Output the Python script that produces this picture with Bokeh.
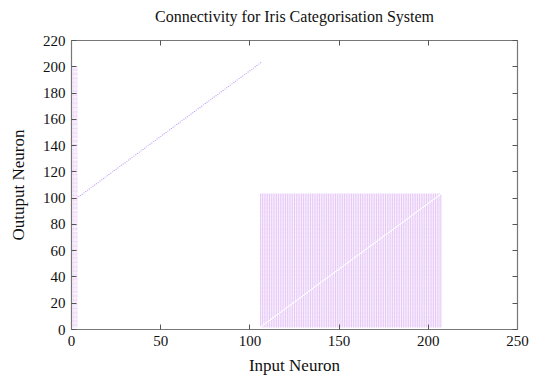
from bokeh.plotting import figure
from bokeh.models import LinearAxis, FixedTicker, Range1d, CustomLabelingPolicy
from bokeh.embed import file_html
from bokeh.resources import INLINE

# --- data (connectivity: input neuron index -> output neuron index) ---
title_text = "Connectivity for Iris Categorisation System"
x_label = "Input Neuron"
y_label = "Outuput Neuron"
x_ticks = [0, 50, 100, 150, 200, 250]
y_ticks = [0, 20, 40, 60, 80, 100, 120, 140, 160, 180, 200, 220]

# sensory inputs (4 iris features) projecting to all neurons
input_sources = [0, 1, 2, 3]
input_target_first = 2
input_target_last = 200

# one-to-one projection
o2o_source_first = 3
o2o_target_first = 100
o2o_count = 104

# all-to-all lateral block, no self connections
block_source_first = 106
block_target_first = 2
block_count = 102

# --- build connection lists ---
col_x, col_y = [], []
for s in input_sources:
    for t in range(input_target_first, input_target_last + 1):
        col_x.append(s)
        col_y.append(t)

diag_x = [o2o_source_first + k for k in range(o2o_count)]
diag_y = [o2o_target_first + k for k in range(o2o_count)]

blk_x, blk_y = [], []
for i in range(block_count):
    for j in range(block_count):
        if i != j:
            blk_x.append(block_source_first + i)
            blk_y.append(block_target_first + j)

FONT = "Liberation Serif"

p = figure(width=538, height=377, output_backend="svg", toolbar_location=None,
           x_range=Range1d(0, 250), y_range=Range1d(0, 220),
           min_border_left=71, min_border_right=16, min_border_top=40, min_border_bottom=48)
p.title.text = title_text
p.title.align = "center"
p.title.text_font = FONT
p.title.text_font_size = "16px"
p.title.text_font_style = "normal"
p.title.text_color = "#111111"
p.title.offset = 0
p.title.standoff = 10
p.outline_line_color = None
p.xgrid.visible = False
p.ygrid.visible = False

p.rect(blk_x, blk_y, width=0.6, height=1.0, fill_color="#d49cf2", line_color=None, fill_alpha=0.6)
p.rect(col_x, col_y, width=0.6, height=0.6, fill_color="#d080f0", line_color=None, fill_alpha=0.5)
p.rect(diag_x, diag_y, width=0.7, height=0.7, fill_color="#a878f0", line_color=None, fill_alpha=0.7)

no_labels = CustomLabelingPolicy(code="""
for (const i of Array.from(indices)) { indices.unset(i) }
return indices
""")

def style(ax, labels=True):
    ax.axis_line_color = "#777777"
    ax.axis_line_width = 1.2
    ax.major_tick_in = 5
    ax.major_tick_out = 0
    ax.major_tick_line_color = "#555555"
    ax.minor_tick_line_color = None
    if labels:
        ax.major_label_text_font = FONT
        ax.major_label_text_font_size = "15px"
        ax.major_label_text_color = "#111111"
        ax.axis_label_text_font = FONT
        ax.axis_label_text_font_size = "17px"
        ax.axis_label_text_font_style = "normal"
        ax.axis_label_text_color = "#111111"
    else:
        ax.major_label_policy = no_labels
        ax.major_label_standoff = 0

p.xaxis.ticker = FixedTicker(ticks=x_ticks)
p.yaxis.ticker = FixedTicker(ticks=y_ticks)
p.xaxis.axis_label = x_label
p.yaxis.axis_label = y_label
style(p.xaxis[0])
style(p.yaxis[0])
p.xaxis.major_label_standoff = 6
p.yaxis.major_label_standoff = 6
p.xaxis.axis_label_standoff = 7
p.yaxis.axis_label_standoff = 12

top = LinearAxis(ticker=FixedTicker(ticks=x_ticks))
right = LinearAxis(ticker=FixedTicker(ticks=y_ticks))
style(top, labels=False)
style(right, labels=False)
p.add_layout(top, "above")
p.add_layout(right, "right")

open("out.html", "w").write(file_html(p, INLINE))
